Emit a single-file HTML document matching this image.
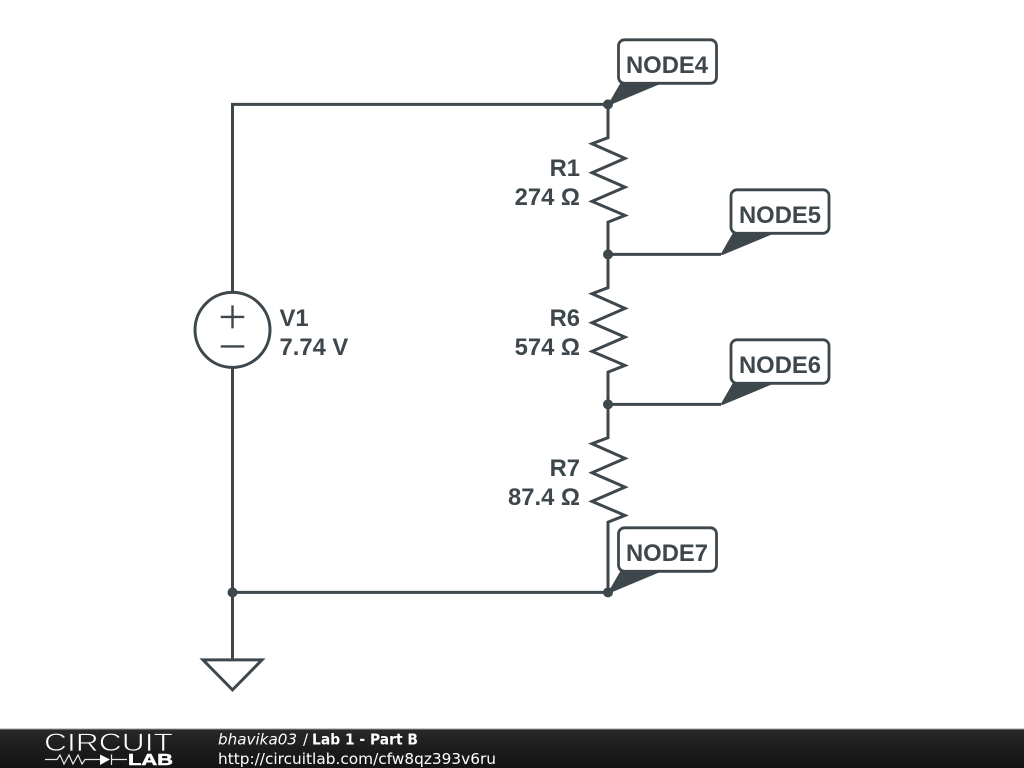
<!DOCTYPE html>
<html>
<head>
<meta charset="utf-8">
<style>
html,body{margin:0;padding:0;background:#fff;width:1024px;height:768px;overflow:hidden}
svg{display:block}
.t{font-family:"Liberation Sans",sans-serif;font-weight:bold;font-size:23.8px;fill:#3e474c}
.f{font-family:"DejaVu Sans",sans-serif;font-size:15px;fill:#fff}
</style>
</head>
<body>
<svg width="1024" height="768" viewBox="0 0 1024 768" xmlns="http://www.w3.org/2000/svg">
<defs>
<linearGradient id="bar" x1="0" y1="0" x2="0" y2="1">
<stop offset="0" stop-color="#2a2a2a"/>
<stop offset="0.5" stop-color="#1c1c1c"/>
<stop offset="1" stop-color="#141414"/>
</linearGradient>
</defs>
<rect width="1024" height="768" fill="#fff"/>
<g transform="translate(0 0.4)">
<g fill="none" stroke="#3e474c" stroke-width="3" stroke-linejoin="miter">
<path d="M232.500 292V104H608V137.300L592 143.300L625 158L592 172.300L625 186.700L592 201L625 215L608 221.700V287.300L592 293.300L625 308L592 322.300L625 336.700L592 351L625 365L608 371.700V437.300L592 443.300L625 458L592 472.300L625 486.700L592 501L625 515L608 521.700V592H232.500V367"/>
<path d="M608 254H721M608 404H721"/>
<path d="M232.500 592V659.500"/>
<circle cx="232.500" cy="329.500" r="37.500"/>
<path d="M220.700 316.500H244.300M232.500 305V328M220.700 346H244.300" stroke-width="2.400"/>
<path d="M203 659.500H262L232.500 689.500Z"/>
</g>
<g fill="#3e474c">
<circle cx="608" cy="104" r="5"/>
<circle cx="608" cy="254" r="5"/>
<circle cx="608" cy="404" r="5"/>
<circle cx="608" cy="592" r="5"/>
<circle cx="232.500" cy="592" r="5"/>
</g>
</g>
<g fill="#fff" stroke="#3e474c" stroke-width="2.800">
<rect x="618.500" y="39.800" width="98" height="43.500" rx="6"/>
<rect x="731" y="189.800" width="98" height="43.500" rx="6"/>
<rect x="731" y="339.800" width="98" height="43.500" rx="6"/>
<rect x="618.500" y="527.800" width="98" height="43.500" rx="6"/>
</g>
<g fill="#3e474c">
<path d="M608 104.500L621 82H665L610 105Z"/>
<path d="M720.500 254.500L733.500 232H777.500L722.500 255Z"/>
<path d="M720.500 404.500L733.500 382H777.500L722.500 405Z"/>
<path d="M608 592.500L621 570H665L610 593Z"/>
</g>
<g>
<text class="t" x="626" y="73">NODE4</text>
<text class="t" x="739" y="223">NODE5</text>
<text class="t" x="739" y="373">NODE6</text>
<text class="t" x="626" y="561">NODE7</text>
<text class="t" x="580" y="176" text-anchor="end">R1</text>
<text class="t" x="580" y="205" text-anchor="end">274 Ω</text>
<text class="t" x="580" y="326" text-anchor="end">R6</text>
<text class="t" x="580" y="355" text-anchor="end">574 Ω</text>
<text class="t" x="580" y="476" text-anchor="end">R7</text>
<text class="t" x="580" y="505" text-anchor="end">87.4 Ω</text>
<text class="t" x="279.500" y="326">V1</text>
<text class="t" x="279.500" y="355">7.74 V</text>
</g>
<rect x="0" y="729" width="1024" height="39" fill="url(#bar)"/>
<rect x="0" y="728.500" width="1024" height="1" fill="#999"/>
<text x="44" y="751" font-family="'Liberation Sans',sans-serif" font-size="25" fill="#fff" stroke="#222" stroke-width="0.7" textLength="129" lengthAdjust="spacingAndGlyphs">CIRCUIT</text>
<g fill="none" stroke="#e8e8e8" stroke-width="1.200">
<path d="M45 759.500H57L60 755L64 764L69 755L73 764L78 755L82 764L85 759.500H100M111.500 754.500V765M111 759.500H127"/>
</g>
<path d="M100 754.500L110 759.500L100 765Z" fill="#fff"/>
<text x="128" y="765" font-family="'Liberation Sans',sans-serif" font-weight="bold" font-size="15.500" fill="#fff" stroke="#fff" stroke-width="0.5" textLength="45" lengthAdjust="spacingAndGlyphs">LAB</text>
<text class="f" x="218" y="744.500" font-style="italic" textLength="79" lengthAdjust="spacingAndGlyphs">bhavika03</text>
<text class="f" x="303" y="744.500">/</text>
<text class="f" x="312" y="744.500" font-weight="bold" textLength="106" lengthAdjust="spacingAndGlyphs">Lab 1 - Part B</text>
<text class="f" x="218" y="764" textLength="278" lengthAdjust="spacingAndGlyphs">http://circuitlab.com/cfw8qz393v6ru</text>
</svg>
</body>
</html>
